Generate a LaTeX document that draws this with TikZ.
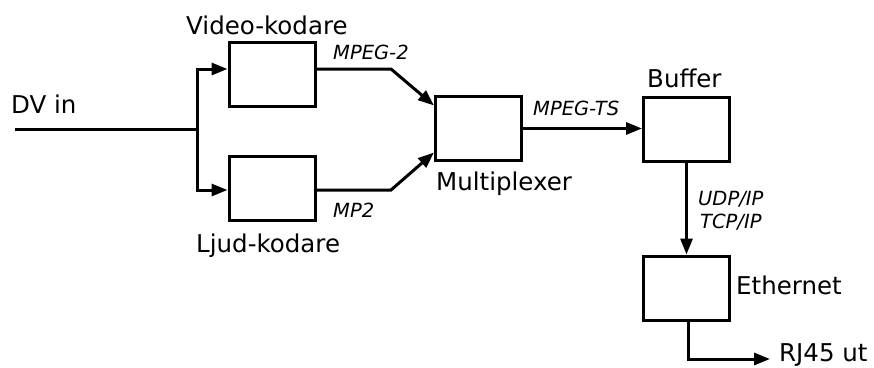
\documentclass[tikz,border=0pt]{standalone}
\usepackage{fontspec}
\setmainfont{DejaVu Sans}
\usetikzlibrary{arrows.meta}
\begin{document}
\begin{tikzpicture}[x=1pt,y=-1pt,
  blk/.style={draw,line width=3pt,minimum width=86pt,minimum height=64pt,inner sep=0pt},
  big/.style={inner sep=0pt,anchor=base west,font=\fontsize{24.5}{28}\selectfont},
  small/.style={inner sep=0pt,anchor=base west,font=\fontsize{19.5}{23}\selectfont\itshape},
  wire/.style={line width=3pt},
  arr/.style={wire,-{Triangle[length=16pt,width=12pt]}}]
\useasboundingbox (0,0) rectangle (874,367);
\node[blk] (video) at (272,74) {};
\node[blk] (ljud) at (272,188) {};
\node[blk] (mux) at (478.5,128.5) {};
\node[blk] (buffer) at (686.5,129.5) {};
\node[blk] (eth) at (686.5,288) {};
\coordinate (in) at (15,129);
\coordinate (br) at (197,129);
\coordinate (vbend) at (391,69);
\coordinate (lbend) at (391,190);
\coordinate (rj) at (770,359);
\draw[wire] (in) -- (br);
\draw[arr] (br) |- ([yshift=5pt]video.west);
\draw[arr] (br) |- ([yshift=-2pt]ljud.west);
\draw[arr] ([yshift=5pt]video.east) -- (vbend) -- ([yshift=23pt]mux.west);
\draw[arr] ([yshift=-2pt]ljud.east) -- (lbend) -- ([yshift=-24pt]mux.west);
\draw[arr] (mux.east) -- (mux.east -| buffer.west);
\draw[arr] (buffer.south) -- (eth.north);
\draw[arr] ([xshift=2pt]eth.south) |- (rj);
\node[big] (dv) at (11,113) {DV in};
\node[big] (tvideo) at (186,34) {Video-kodare};
\node[big] (tljud) at (196,252) {Ljud-kodare};
\node[big] (tmux) at (436,190) {Multiplexer};
\node[big] (tbuf) at (647,87) {Buffer};
\node[big] (teth) at (736,294) {Ethernet};
\node[big] (trj) at (779,361) {RJ45 ut};
\node[small] (lmpeg) at (333,59) {MPEG-2};
\node[small] (lmp2) at (333,217) {MP2};
\node[small] (lts) at (533,115) {MPEG-TS};
\node[small] (ludp) at (698,205) {UDP/IP};
\node[small] (ltcp) at (700,228) {TCP/IP};
\end{tikzpicture}
\end{document}
